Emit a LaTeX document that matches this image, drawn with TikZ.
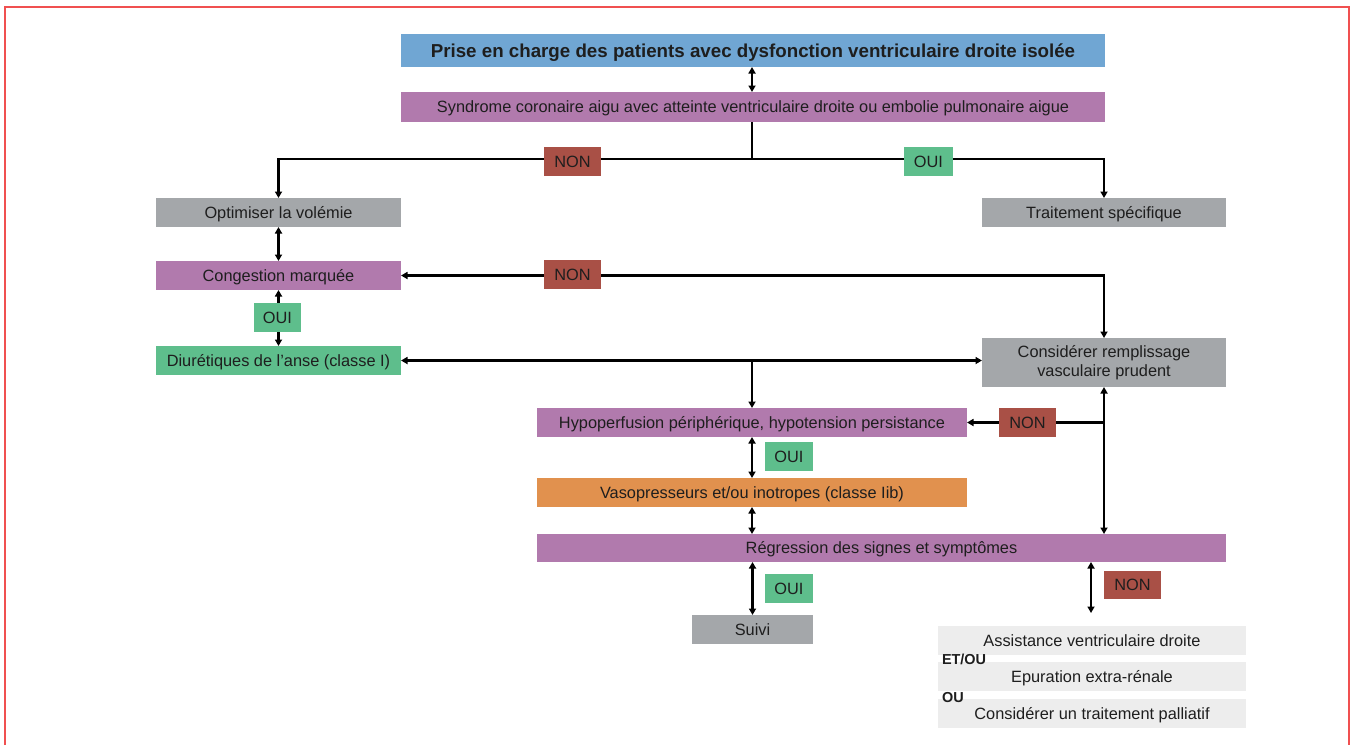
\documentclass[tikz,border=0pt]{standalone}
\usepackage{fontspec}
\setmainfont{Liberation Sans}
\usetikzlibrary{arrows.meta}
\definecolor{cblue}{RGB}{112,166,211}
\definecolor{cpurple}{RGB}{177,122,173}
\definecolor{cgray}{RGB}{164,167,170}
\definecolor{cgreen}{RGB}{94,190,140}
\definecolor{cred}{RGB}{169,80,70}
\definecolor{corange}{RGB}{225,145,78}
\definecolor{clight}{RGB}{237,237,237}
\definecolor{cframe}{RGB}{240,80,80}
\definecolor{ctext}{RGB}{30,30,30}
\tikzset{
  box/.style={inner sep=0pt, outer sep=0pt, text=ctext, align=center,
    text height=14bp, text depth=2.2bp,
    font=\fontsize{16.4}{19.5}\selectfont},
  lbl/.style={box, minimum height=29bp},
  conn/.style={line width=2.1bp, draw=black},
  tip/.style={-{Triangle[length=6.5bp,width=7bp]}},
  dtip/.style={{Triangle[length=6.5bp,width=7bp]}-{Triangle[length=6.5bp,width=7bp]}},
}
\begin{document}
\begin{tikzpicture}[x=1bp,y=-1bp]
\useasboundingbox (0,0) rectangle (1351,745);
\draw[cframe, line width=1.5bp] (5,745) -- (5,7) -- (1349,7) -- (1349,745);
% boxes
\node[box, fill=cblue, minimum width=704bp, minimum height=33bp, text height=16bp, text depth=2.5bp, font=\fontsize{18.8}{22}\selectfont\bfseries] (title) at (753,50.5) {Prise en charge des patients avec dysfonction ventriculaire droite isolée};
\node[box, fill=cpurple, minimum width=704bp, minimum height=30bp] (syn) at (753,107) {Syndrome coronaire aigu avec atteinte ventriculaire droite ou embolie pulmonaire aigue};
\node[box, fill=cgray, minimum width=245bp, minimum height=29bp] (opt) at (278.5,212.5) {Optimiser la volémie};
\node[box, fill=cgray, minimum width=244bp, minimum height=29bp] (trait) at (1104,212.5) {Traitement spécifique};
\node[box, fill=cpurple, minimum width=245bp, minimum height=29bp] (cong) at (278.5,275.5) {Congestion marquée};
\node[box, fill=cgreen, minimum width=245bp, minimum height=29bp] (diur) at (278.5,360.5) {Diurétiques de l’anse (classe I)};
\node[box, fill=cgray, minimum width=244bp, minimum height=49bp, text height=, text depth=] (cons) at (1104,362.5) {Considérer remplissage\\vasculaire prudent};
\node[box, fill=cpurple, minimum width=430bp, minimum height=29bp] (hypo) at (752,422.5) {Hypoperfusion périphérique, hypotension persistance};
\node[box, fill=corange, minimum width=430bp, minimum height=29bp] (vaso) at (752,492.5) {Vasopresseurs et/ou inotropes (classe Iib)};
\node[box, fill=cpurple, minimum width=689bp, minimum height=28bp] (reg) at (881.5,548) {Régression des signes et symptômes};
\node[box, fill=cgray, minimum width=121bp, minimum height=29bp] (suivi) at (752.5,629.5) {Suivi};
\node[box, fill=clight, minimum width=308bp, minimum height=29bp] (a1) at (1092,640.5) {Assistance ventriculaire droite};
\node[box, fill=clight, minimum width=308bp, minimum height=29bp] (a2) at (1092,676.5) {Epuration extra-rénale};
\node[box, fill=clight, minimum width=308bp, minimum height=29bp] (a3) at (1092,713.5) {Considérer un traitement palliatif};
\node[box, anchor=west, text height=11bp, text depth=0bp, font=\fontsize{14.5}{16}\selectfont\bfseries] (etou) at (942,659) {ET/OU};
\node[box, anchor=west, text height=11bp, text depth=0bp, font=\fontsize{14.5}{16}\selectfont\bfseries] (ou) at (942,697) {OU};
% connectors
\coordinate (j1) at (752,159);
\draw[conn, dtip] (title.south -| j1) -- (syn.north -| j1);
\draw[conn] (syn.south -| j1) -- (j1);
\draw[conn, tip] (j1) -| (opt.north);
\draw[conn, tip] (j1) -| (trait.north);
\draw[conn, dtip] (opt.south) -- (cong.north);
\draw[conn, dtip] (cong.east) -| (cons.north);
\draw[conn, dtip] (cong.south) -- (diur.north);
\draw[conn, dtip] (diur.east) -- (diur.east -| cons.west);
\draw[conn, tip] (hypo.north |- diur.east) -- (hypo.north);
\draw[conn, dtip] (cons.south) -- (cons.south |- reg.north);
\draw[conn, tip] (cons.south |- hypo.east) -- (hypo.east);
\draw[conn, dtip] (hypo.south) -- (vaso.north);
\draw[conn, dtip] (vaso.south) -- (vaso.south |- reg.north);
\draw[conn, dtip] (suivi.north |- reg.south) -- (suivi.north);
\coordinate (j2) at (1091,613);
\draw[conn, dtip] (j2 |- reg.south) -- (j2);
% labels
\node[lbl, fill=cred, minimum width=57bp] (non1) at (572.5,161.5) {NON};
\node[lbl, fill=cgreen, minimum width=49bp] (oui1) at (928.5,161.5) {OUI};
\node[lbl, fill=cred, minimum width=57bp] (non2) at (572.5,274.5) {NON};
\node[lbl, fill=cgreen, minimum width=47bp] (oui2) at (277.5,317.5) {OUI};
\node[lbl, fill=cred, minimum width=57bp] (non3) at (1027.5,422.5) {NON};
\node[lbl, fill=cgreen, minimum width=48bp] (oui3) at (789,456.5) {OUI};
\node[lbl, fill=cgreen, minimum width=48bp] (oui4) at (789,588.5) {OUI};
\node[lbl, fill=cred, minimum width=57bp, minimum height=28bp] (non4) at (1132.5,585) {NON};
\end{tikzpicture}
\end{document}
